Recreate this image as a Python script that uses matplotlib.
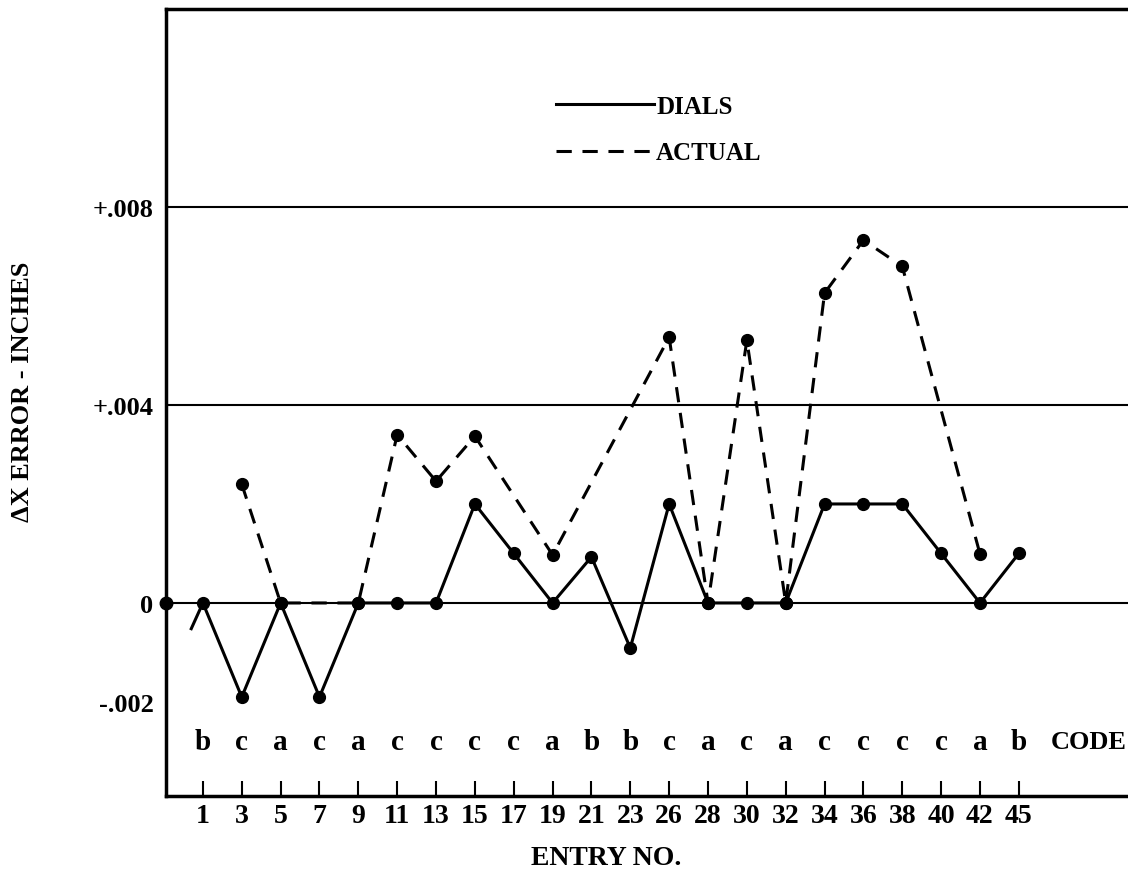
import numpy as np
import matplotlib
matplotlib.use("Agg")
import matplotlib.pyplot as plt

plt.rcParams['font.family'] = ['Liberation Serif', 'DejaVu Serif']
plt.rcParams['font.weight'] = 'bold'
plt.rcParams['axes.labelweight'] = 'bold'

# entry numbers along the bottom and their code letters
entries = [1, 3, 5, 7, 9, 11, 13, 15, 17, 19, 21, 23, 26, 28, 30, 32, 34, 36, 38, 40, 42, 45]
codes = ['b', 'c', 'a', 'c', 'a', 'c', 'c', 'c', 'c', 'a', 'b', 'b',
         'c', 'a', 'c', 'a', 'c', 'c', 'c', 'c', 'a', 'b']

# error in inches (None = no point plotted)
dials = [0.0, -0.0019, 0.0, -0.0019, 0.0, 0.0, 0.0, 0.002, 0.001, 0.0, 0.00093, -0.00091,
         0.002, 0.0, 0.0, 0.0, 0.002, 0.002, 0.002, 0.001, 0.0, 0.001]
actual = [None, 0.0024, 0.0, None, 0.0, 0.0034, 0.00246, 0.00337, None, 0.00097, None, None,
          0.00537, 0.0, 0.00531, 0.0, 0.00626, 0.00733, 0.0068, None, 0.00099, None]

# short lead-in stroke before entry 1
lead_x = [-0.3, 0]
lead_y = [-0.00052, 0.0]

yticks = [-0.002, 0, 0.004, 0.008]
ytick_labels = ['-.002', '0', '+.004', '+.008']

W, H = 1128, 878
fig = plt.figure(figsize=(W / 100, H / 100), dpi=100)
ax = fig.add_axes([166 / W, 1 - 797 / H, (W - 166) / W + 0.01, (797 - 10) / H])

x = np.arange(len(entries))
ax.set_xlim(-0.95, 24.1)
ax.set_ylim(-0.0039, 0.012)

# horizontal reference lines
for yv in [0, 0.004, 0.008]:
    ax.axhline(yv, color='black', lw=1.5, zorder=1)

ax.plot(lead_x, lead_y, color='black', lw=2.2, zorder=3)
ax.plot(x, dials, color='black', lw=2.2, marker='o', ms=8.5, label='DIALS', zorder=3)

ax_x = [i for i, v in zip(x, actual) if v is not None]
ax_y = [v for v in actual if v is not None]
ax.plot(ax_x, ax_y, color='black', lw=2.2, ls=(0, (5, 3.5)), marker='o', ms=8.5,
        label='ACTUAL', zorder=3)

# dot on the left axis at zero
ax.plot([ax.get_xlim()[0]], [0], 'ko', ms=9, clip_on=False, zorder=4)

# code letters
code_y = -0.0028
for i, c in zip(x, codes):
    ax.text(i, code_y, c, ha='center', va='center', fontsize=21)
ax.text(len(entries) + 0.8, code_y, 'CODE', ha='center', va='center', fontsize=19)

ax.set_xticks(x)
ax.set_xticklabels([str(e) for e in entries], fontsize=20)
ax.tick_params(axis='x', direction='in', length=11, width=1.5, pad=5)
ax.set_yticks(yticks)
ax.set_yticklabels(ytick_labels, fontsize=19)
ax.tick_params(axis='y', length=0, pad=9)

for s in ['left', 'bottom', 'top']:
    ax.spines[s].set_linewidth(2.5)
ax.spines['right'].set_visible(False)

ax.set_xlabel('ENTRY NO.', fontsize=20)
ax.xaxis.set_label_coords(0.452, -0.062)
ax.set_ylabel('\u0394X ERROR - INCHES', fontsize=19)
ax.yaxis.set_label_coords(-0.136, 0.515)

ax.legend(loc='upper left', bbox_to_anchor=(0.388, 0.907), frameon=False,
          handlelength=3.9, handletextpad=0.1, labelspacing=0.95, borderpad=0,
          fontsize=18, markerscale=0)

fig.savefig('out.png', dpi=100)
